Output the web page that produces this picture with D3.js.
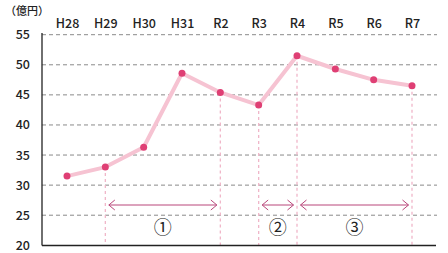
<!DOCTYPE html>
<html><head><meta charset="utf-8">
<script src="https://cdn.jsdelivr.net/npm/d3@7"></script>
<style>
body{margin:0;background:#fff;}
svg text{font-family:"Noto Sans CJK JP","Noto Sans",sans-serif;}
</style></head><body>
<svg id="c" width="448" height="253"></svg>
<script>
const categories = ["H28","H29","H30","H31","R2","R3","R4","R5","R6","R7"];
const values = [31.5, 33.0, 36.3, 48.6, 45.4, 43.3, 51.5, 49.3, 47.5, 46.5];
const yTicks = [20,25,30,35,40,45,50,55];
const unitLabel = "（億円）";
const markerCats = ["H29","R2","R3","R4","R7"];
const periods = [
  {from:"H29", to:"R2", label:"①"},
  {from:"R3", to:"R4", label:"②"},
  {from:"R4", to:"R7", label:"③"}
];

const svg = d3.select("#c");
const x = d3.scalePoint().domain(categories).range([67, 412]);
const y = d3.scaleLinear().domain([20,55]).range([245.3, 34.7]);
const left = 42, right = 437;

// grid
svg.append("g").selectAll("line").data(yTicks.filter(d=>d>20)).join("line")
  .attr("x1", left).attr("x2", right)
  .attr("y1", d=>y(d)).attr("y2", d=>y(d))
  .attr("stroke", "#8a8a8a").attr("stroke-width", 1).attr("stroke-dasharray", "4,3");

// y axis labels
const yAxis = d3.axisLeft(y).tickValues(yTicks).tickSize(0).tickPadding(12);
const gy = svg.append("g").attr("transform", `translate(${left},0)`).call(yAxis);
gy.select(".domain").remove();
gy.selectAll("text").attr("font-size", 12.5).attr("font-weight", 500).attr("fill", "#222");

// x top labels
const xAxis = d3.axisTop(x).tickSize(0).tickPadding(0);
const gx = svg.append("g").attr("transform", `translate(0,28)`).call(xAxis);
gx.select(".domain").remove();
gx.selectAll("text").attr("font-size", 12.5).attr("font-weight", 500).attr("fill", "#222");

// unit label
svg.append("text").attr("x", 5).attr("y", 15).attr("font-size", 11).attr("font-weight", 500)
  .attr("fill", "#222").text(unitLabel);

// vertical dashed marker lines
svg.append("g").selectAll("line").data(markerCats).join("line")
  .attr("x1", d=>x(d)).attr("x2", d=>x(d))
  .attr("y1", d=>y(values[categories.indexOf(d)])).attr("y2", 245)
  .attr("stroke", "#f0b6c9").attr("stroke-width", 1.3).attr("stroke-dasharray", "3,3");

// axes lines
svg.append("line").attr("x1", left).attr("x2", left).attr("y1", 33).attr("y2", 245.5)
  .attr("stroke", "#222").attr("stroke-width", 1.3);
svg.append("line").attr("x1", left).attr("x2", 436).attr("y1", 245.5).attr("y2", 245.5)
  .attr("stroke", "#222").attr("stroke-width", 1.3);

// line
const line = d3.line().x((d,i)=>x(categories[i])).y(d=>y(d));
svg.append("path").datum(values).attr("d", line).attr("fill","none")
  .attr("stroke", "#f6c3d2").attr("stroke-width", 4).attr("stroke-linejoin","round");

// points
svg.append("g").selectAll("circle").data(values).join("circle")
  .attr("cx", (d,i)=>x(categories[i])).attr("cy", d=>y(d)).attr("r", 3.5)
  .attr("fill", "#df3f74");

// arrows
const ay = 205;
const ac = "#b9467a";
const ga = svg.append("g");
periods.forEach(p=>{
  const x1 = x(p.from)+3.5, x2 = x(p.to)-3.5;
  ga.append("line").attr("x1", x1).attr("x2", x2).attr("y1", ay).attr("y2", ay)
    .attr("stroke", ac).attr("stroke-width", 1);
  ga.append("path").attr("d", `M${x1+6},${ay-5}L${x1},${ay}L${x1+6},${ay+5}`)
    .attr("fill","none").attr("stroke", ac).attr("stroke-width", 1);
  ga.append("path").attr("d", `M${x2-6},${ay-5}L${x2},${ay}L${x2-6},${ay+5}`)
    .attr("fill","none").attr("stroke", ac).attr("stroke-width", 1);
  ga.append("text").attr("x", (x(p.from)+x(p.to))/2).attr("y", 234)
    .attr("text-anchor","middle").attr("font-size", 18).attr("fill","#222").text(p.label);
});
</script>
</body></html>
